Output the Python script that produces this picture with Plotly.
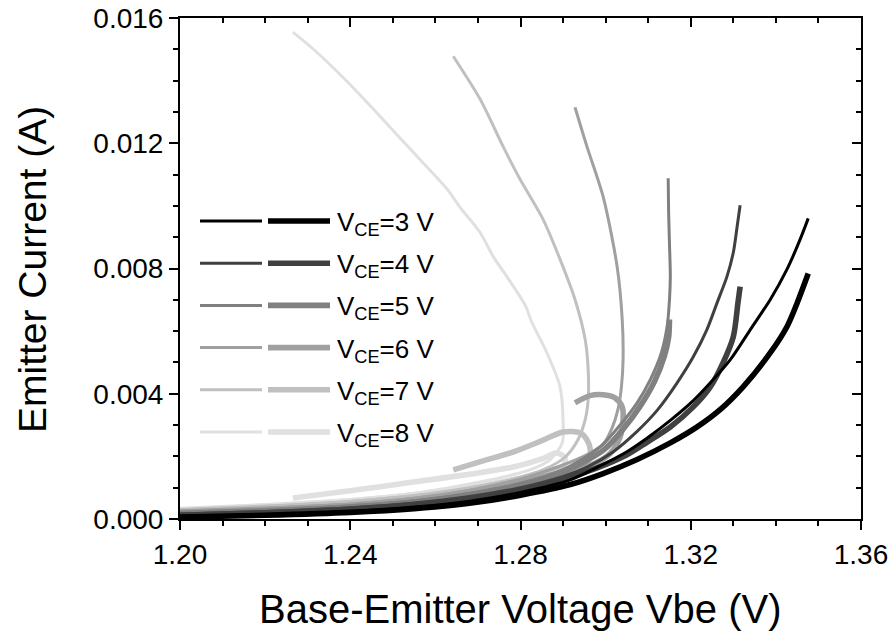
import plotly.graph_objects as go

# ---------------- data ----------------
VCE_LABELS = ["3", "4", "5", "6", "7", "8"]
COLORS = ["#000000", "#404040", "#808080", "#a0a0a0", "#c0c0c0", "#e0e0e0"]

VBE_3V_THIN = [1.200, 1.220, 1.240, 1.255, 1.268, 1.280, 1.2917, 1.298, 1.3050, 1.3097, 1.3152, 1.3206, 1.3246, 1.3293, 1.3340, 1.3387, 1.3426, 1.3457, 1.3476]
IE_3V_THIN = [0.00008, 0.00014, 0.00024, 0.00038, 0.00057, 0.00085, 0.00125, 0.00165, 0.00215, 0.00258, 0.00315, 0.00378, 0.00435, 0.00509, 0.00605, 0.00701, 0.00797, 0.00893, 0.00960]
VBE_3V_THICK = [1.200, 1.220, 1.240, 1.255, 1.268, 1.280, 1.2917, 1.2994, 1.3074, 1.3152, 1.3215, 1.3269, 1.3323, 1.3387, 1.3426, 1.3450, 1.3476]
IE_3V_THICK = [0.00006, 0.00012, 0.00021, 0.00033, 0.00050, 0.00076, 0.00110, 0.00145, 0.00190, 0.00243, 0.00294, 0.00349, 0.00422, 0.00531, 0.00614, 0.00690, 0.00784]

VBE_4V_THIN = [1.200, 1.220, 1.240, 1.255, 1.268, 1.280, 1.290, 1.296, 1.3018, 1.3074, 1.3121, 1.3168, 1.3206, 1.3238, 1.3262, 1.3285, 1.3300, 1.3309, 1.3316]
IE_4V_THIN = [0.00016, 0.00024, 0.00036, 0.00051, 0.00072, 0.00100, 0.00136, 0.00168, 0.00215, 0.00280, 0.00347, 0.00435, 0.00518, 0.00605, 0.00691, 0.00774, 0.00851, 0.00934, 0.01002]
VBE_4V_THICK = [1.200, 1.220, 1.240, 1.255, 1.268, 1.280, 1.290, 1.298, 1.3050, 1.3097, 1.3152, 1.3206, 1.3246, 1.3276, 1.3300, 1.3311, 1.3316]
IE_4V_THICK = [0.00012, 0.00020, 0.00031, 0.00045, 0.00065, 0.00092, 0.00126, 0.00163, 0.00205, 0.00245, 0.00294, 0.00358, 0.00422, 0.00499, 0.00582, 0.00691, 0.00742]

VBE_5V_THIN = [1.200, 1.220, 1.240, 1.255, 1.268, 1.280, 1.290, 1.2987, 1.3034, 1.3074, 1.3105, 1.3131, 1.3145, 1.3150, 1.3152, 1.3150, 1.3148, 1.3147]
IE_5V_THIN = [0.00020, 0.00029, 0.00042, 0.00058, 0.00082, 0.00114, 0.00158, 0.00230, 0.00300, 0.00371, 0.00445, 0.00531, 0.00620, 0.00700, 0.00774, 0.00880, 0.00980, 0.01088]
VBE_5V_THICK = [1.200, 1.220, 1.240, 1.255, 1.268, 1.280, 1.290, 1.2995, 1.3040, 1.3080, 1.3115, 1.3138, 1.3148, 1.3150]
IE_5V_THICK = [0.00018, 0.00026, 0.00038, 0.00054, 0.00077, 0.00108, 0.00150, 0.00220, 0.00285, 0.00358, 0.00440, 0.00520, 0.00580, 0.00637]

VBE_6V_THIN = [1.200, 1.220, 1.240, 1.255, 1.268, 1.280, 1.2895, 1.2960, 1.2995, 1.3015, 1.3029, 1.3037, 1.3041, 1.3039, 1.3027, 1.2994, 1.2956, 1.2928]
IE_6V_THIN = [0.00024, 0.00034, 0.00048, 0.00066, 0.00092, 0.00128, 0.00170, 0.00208, 0.00240, 0.00290, 0.00350, 0.00420, 0.00509, 0.00637, 0.00806, 0.01030, 0.01190, 0.01315]
VBE_6V_THICK = [1.200, 1.220, 1.240, 1.255, 1.268, 1.280, 1.290, 1.2975, 1.3011, 1.3034, 1.3041, 1.3039, 1.3022, 1.2994, 1.2963, 1.2928]
IE_6V_THICK = [0.00022, 0.00031, 0.00044, 0.00062, 0.00087, 0.00118, 0.00150, 0.00178, 0.00210, 0.00262, 0.00317, 0.00358, 0.00387, 0.00397, 0.00394, 0.00371]

VBE_7V_THIN = [1.200, 1.220, 1.240, 1.255, 1.268, 1.278, 1.2858, 1.2905, 1.2935, 1.2952, 1.2959, 1.2959, 1.2952, 1.2928, 1.2893, 1.2853, 1.2799, 1.2759, 1.2705, 1.2642]
IE_7V_THIN = [0.00028, 0.00040, 0.00056, 0.00075, 0.00100, 0.00127, 0.00160, 0.00198, 0.00253, 0.00317, 0.00381, 0.00477, 0.00573, 0.00701, 0.00829, 0.00957, 0.01085, 0.01190, 0.01341, 0.01478]
VBE_7V_THICK = [1.200, 1.220, 1.240, 1.255, 1.268, 1.278, 1.2870, 1.2930, 1.2960, 1.2964, 1.2956, 1.2940, 1.2900, 1.2850, 1.2783, 1.2710, 1.2642]
IE_7V_THICK = [0.00026, 0.00037, 0.00052, 0.00070, 0.00094, 0.00120, 0.00148, 0.00168, 0.00190, 0.00221, 0.00253, 0.00275, 0.00278, 0.00250, 0.00214, 0.00185, 0.00157]

VBE_8V_THIN = [1.200, 1.220, 1.240, 1.255, 1.2705, 1.2822, 1.2869, 1.2898, 1.2900, 1.2893, 1.2862, 1.2826, 1.2812, 1.2768, 1.2736, 1.2705, 1.2658, 1.2628, 1.2548, 1.2470, 1.2392, 1.2313, 1.2265]
IE_8V_THIN = [0.00032, 0.00045, 0.00062, 0.00082, 0.00118, 0.00157, 0.00189, 0.00243, 0.00317, 0.00422, 0.00531, 0.00630, 0.00680, 0.00774, 0.00838, 0.00915, 0.00995, 0.01053, 0.01171, 0.01286, 0.01398, 0.01501, 0.01555]
VBE_8V_THICK = [1.200, 1.220, 1.240, 1.255, 1.268, 1.278, 1.2860, 1.2900, 1.2905, 1.2886, 1.2850, 1.2783, 1.2680, 1.2548, 1.2400, 1.2265]
IE_8V_THICK = [0.00030, 0.00042, 0.00058, 0.00077, 0.00100, 0.00125, 0.00145, 0.00168, 0.00195, 0.00211, 0.00192, 0.00166, 0.00143, 0.00118, 0.00090, 0.00067]

THIN = [(VBE_3V_THIN, IE_3V_THIN), (VBE_4V_THIN, IE_4V_THIN), (VBE_5V_THIN, IE_5V_THIN),
        (VBE_6V_THIN, IE_6V_THIN), (VBE_7V_THIN, IE_7V_THIN), (VBE_8V_THIN, IE_8V_THIN)]
THICK = [(VBE_3V_THICK, IE_3V_THICK), (VBE_4V_THICK, IE_4V_THICK), (VBE_5V_THICK, IE_5V_THICK),
         (VBE_6V_THICK, IE_6V_THICK), (VBE_7V_THICK, IE_7V_THICK), (VBE_8V_THICK, IE_8V_THICK)]

X_RANGE = [1.20, 1.36]
Y_RANGE = [0.0, 0.016]
X_TICKS = [1.20, 1.24, 1.28, 1.32, 1.36]
Y_TICKS = [0.000, 0.004, 0.008, 0.012, 0.016]

# ---------------- figure ----------------
W, H = 894, 635
ML, MR, MT, MB = 180, 33, 18, 116
PW, PH = W - ML - MR, H - MT - MB
FONT = "Liberation Sans, Arial, sans-serif"
THIN_W, THICK_W = 3.0, 5.6

fig = go.Figure()
for i in reversed(range(len(VCE_LABELS))):
    for (xs, ys), w in ((THICK[i], THICK_W), (THIN[i], THIN_W)):
        fig.add_trace(go.Scatter(x=xs, y=ys, mode="lines", showlegend=False,
                                 line=dict(color=COLORS[i], width=w, shape="spline", smoothing=0.8),
                                 hoverinfo="skip"))
# carrier for top/right mirror axes
fig.add_trace(go.Scatter(x=[], y=[], xaxis="x2", yaxis="y2", showlegend=False))

axis_common = dict(showgrid=False, zeroline=False, linecolor="black", linewidth=2, automargin=False,
                   tickcolor="black", tickwidth=2, tickfont=dict(family=FONT, size=28, color="black"))
mirror_common = dict(showticklabels=False, ticks="inside", ticklen=9, tickwidth=2, tickcolor="black",
                     showgrid=False, zeroline=False, showline=False, automargin=False)

fig.update_layout(
    width=W, height=H, margin=dict(l=ML, r=MR, t=MT, b=MB, autoexpand=False),
    paper_bgcolor="white", plot_bgcolor="white",
    xaxis=dict(range=X_RANGE, tickvals=X_TICKS, ticktext=[f"{v:.2f}" for v in X_TICKS],
               ticks="outside", ticklen=9, showline=True, mirror=True,
               minor=dict(dtick=0.01, ticks="outside", ticklen=5, tickwidth=2, tickcolor="black"),
               **axis_common),
    yaxis=dict(range=Y_RANGE, tickvals=Y_TICKS, ticktext=[f"{v:.3f}" for v in Y_TICKS],
               ticks="outside", ticklen=9, showline=True, mirror=True,
               minor=dict(dtick=0.001, ticks="outside", ticklen=5, tickwidth=2, tickcolor="black"),
               **axis_common),
    xaxis2=dict(range=X_RANGE, overlaying="x", side="top", anchor="y", tickvals=X_TICKS,
                minor=dict(dtick=0.01, ticks="inside", ticklen=5, tickwidth=2, tickcolor="black"),
                **mirror_common),
    yaxis2=dict(range=Y_RANGE, overlaying="y", side="right", anchor="x", tickvals=Y_TICKS,
                minor=dict(dtick=0.001, ticks="inside", ticklen=5, tickwidth=2, tickcolor="black"),
                **mirror_common),
)

def px_x(p):
    return (p - ML) / PW

def px_y(p):
    return (H - MB - p) / PH

annotations = [
    dict(text="Base-Emitter Voltage Vbe (V)", x=px_x(520), y=px_y(609), xref="paper", yref="paper",
         xanchor="center", yanchor="middle", showarrow=False, font=dict(family=FONT, size=40, color="black")),
    dict(text="Emitter Current (A)", x=px_x(32), y=px_y(270), xref="paper", yref="paper",
         xanchor="center", yanchor="middle", textangle=-90, showarrow=False,
         font=dict(family=FONT, size=39, color="black")),
]
shapes = []
ROW0, ROW_STEP = 221, 42.2
for i, lab in enumerate(VCE_LABELS):
    yc = ROW0 + i * ROW_STEP
    shapes.append(dict(type="line", xref="paper", yref="paper", x0=px_x(200), x1=px_x(262),
                       y0=px_y(yc), y1=px_y(yc), line=dict(color=COLORS[i], width=THIN_W)))
    shapes.append(dict(type="line", xref="paper", yref="paper", x0=px_x(268), x1=px_x(330),
                       y0=px_y(yc), y1=px_y(yc), line=dict(color=COLORS[i], width=THICK_W)))
    annotations.append(dict(text=f"V<sub>CE</sub>={lab} V", x=px_x(335), y=px_y(yc - 16),
                            xref="paper", yref="paper", xanchor="left", yanchor="top",
                            showarrow=False, font=dict(family=FONT, size=26, color="black")))

fig.update_layout(annotations=annotations, shapes=shapes)
fig.write_html("out.html")
